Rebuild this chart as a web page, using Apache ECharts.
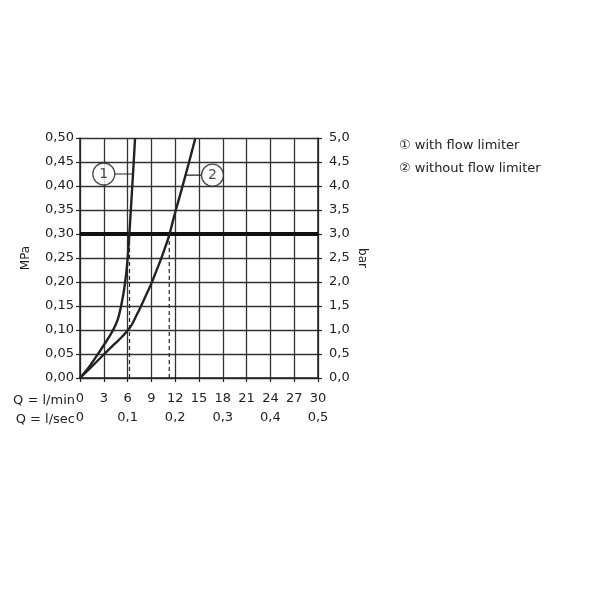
<!DOCTYPE html>
<html><head><meta charset="utf-8">
<script src="https://cdn.jsdelivr.net/npm/echarts@6/dist/echarts.min.js"></script>
<style>html,body{margin:0;padding:0;background:#fff}#c{width:600px;height:600px}</style>
</head><body><div id="c"></div>
<script>
// data (flow l/min, pressure MPa)
var curve1 = [[0,0],[1.1,0.022],[2.27,0.05],[3.3,0.076],[3.9,0.092],[4.3,0.104],[4.6,0.115],[4.85,0.127],[5.05,0.14],[5.22,0.153],[5.38,0.167],[5.52,0.18],[5.65,0.195],[5.77,0.21],[5.9,0.23],[6.01,0.25],[6.12,0.275],[6.22,0.30],[6.41,0.35],[6.59,0.40],[6.77,0.45],[6.94,0.50]];
var curve2 = [[0,0],[1.5,0.024],[3,0.049],[4.5,0.073],[5.3,0.086],[5.8,0.095],[6.2,0.103],[6.6,0.113],[7.05,0.128],[7.55,0.145],[8.25,0.17],[8.95,0.195],[9.55,0.22],[10.1,0.243],[10.65,0.268],[11.2,0.295],[12.0,0.345],[12.85,0.395],[13.7,0.447],[14.55,0.50]];
var dashed1 = [[6.24,0],[6.24,0.30]];
var dashed2 = [[11.25,0],[11.25,0.30]];
var refPressure = 0.30;
var seriesNames = ['\u2460 with flow limiter','\u2461 without flow limiter'];
var tagLabels = ['1','2'];
var tagPoints = [[3.0,0.425],[16.7,0.4225]];
var leader1 = [[4.4,0.425],[6.68,0.425]];
var leader2 = [[13.3,0.4225],[15.3,0.4225]];
var xMinTicks = [0,3,6,9,12,15,18,21,24,27,30];
var xSecTicks = [0,6,12,18,24,30];

var FONT = 'DejaVu Sans';
var C = '#222';
var chart = echarts.init(document.getElementById('c'));
function comma(v, d){ return v.toFixed(d).replace('.', ','); }
var lineBase = {type:'line', showSymbol:false, symbol:'none', z:5};
chart.setOption({
  animation:false,
  textStyle:{fontFamily:FONT, color:C},
  legend:{
    data:seriesNames, orient:'vertical', left:389, top:134, itemWidth:0, itemHeight:0, itemGap:10,
    icon:'none', textStyle:{fontSize:13, color:C, fontFamily:FONT}, selectedMode:false
  },
  grid:{left:80, right:282, top:138, bottom:222, containLabel:false},
  xAxis:[{
    type:'value', min:0, max:30, interval:3, position:'bottom',
    axisLine:{show:true, onZero:false, lineStyle:{color:C, width:1.5}},
    axisTick:{show:true, length:4, lineStyle:{color:C, width:1.2}},
    axisLabel:{margin:14, fontSize:13, color:C, fontFamily:FONT, showMinLabel:true, showMaxLabel:true,
      customValues: xMinTicks},
    splitLine:{show:true, lineStyle:{color:'#333', width:1.3}}
  },{
    type:'value', min:0, max:30, interval:6, position:'bottom', offset:19, gridIndex:0,
    axisLine:{show:false}, axisTick:{show:false},
    axisLabel:{margin:14, fontSize:13, color:C, fontFamily:FONT, customValues: xSecTicks,
      formatter:function(v){ return v===0 ? '0' : comma(v/60,1); }},
    splitLine:{show:false}
  }],
  yAxis:[{
    type:'value', min:0, max:0.5, interval:0.05, position:'left',
    name:'MPa', nameLocation:'middle', nameGap:48, nameRotate:90,
    nameTextStyle:{fontSize:12, color:C, fontFamily:FONT},
    axisLine:{show:true, onZero:false, lineStyle:{color:C, width:1.5}},
    axisTick:{show:true, length:4, lineStyle:{color:C, width:1.2}},
    axisLabel:{margin:6, fontSize:13, color:C, fontFamily:FONT, formatter:function(v){return comma(v,2);}},
    splitLine:{show:true, lineStyle:{color:'#333', width:1.3}}
  },{
    type:'value', min:0, max:5, interval:0.5, position:'right',
    name:'bar', nameLocation:'middle', nameGap:38, nameRotate:-90,
    nameTextStyle:{fontSize:12, color:C, fontFamily:FONT},
    axisLine:{show:true, onZero:false, lineStyle:{color:C, width:1.5}},
    axisTick:{show:true, length:4, lineStyle:{color:C, width:1.2}},
    axisLabel:{margin:11, fontSize:13, color:C, fontFamily:FONT, formatter:function(v){return comma(v,1);}},
    splitLine:{show:false}
  }],
  graphic:[
    {type:'text', right:525, top:394, style:{text:'Q = l/min', font:'13px '+FONT, fill:C, textAlign:'right'}},
    {type:'text', right:525, top:413, style:{text:'Q = l/sec', font:'13px '+FONT, fill:C, textAlign:'right'}}
  ],
  series:[
    Object.assign({}, lineBase, {name:seriesNames[0], data:curve1, smooth:0.3, lineStyle:{color:C, width:2.4},
      markLine:{silent:true, symbol:'none', label:{show:false}, lineStyle:{color:'#111', width:4, type:'solid'},
        data:[{yAxis:refPressure}]}}),
    Object.assign({}, lineBase, {name:seriesNames[1], data:curve2, smooth:0.3, lineStyle:{color:C, width:2.4}}),
    Object.assign({}, lineBase, {name:'d1', data:dashed1, lineStyle:{color:C, width:1.2, type:[4,3]}, z:4}),
    Object.assign({}, lineBase, {name:'d2', data:dashed2, lineStyle:{color:C, width:1.2, type:[4,3]}, z:4}),
    Object.assign({}, lineBase, {name:'l1', data:leader1, lineStyle:{color:C, width:1.2}, z:4}),
    Object.assign({}, lineBase, {name:'l2', data:leader2, lineStyle:{color:C, width:1.2}, z:4}),
    {type:'scatter', name:'tags', z:10, symbol:'circle', symbolSize:22,
      itemStyle:{color:'#fff', borderColor:C, borderWidth:1.3},
      label:{show:true, position:'inside', fontSize:14, color:C, fontFamily:FONT,
        formatter:function(p){ return tagLabels[p.dataIndex]; }},
      data:tagPoints}
  ]
});
</script></body></html>
